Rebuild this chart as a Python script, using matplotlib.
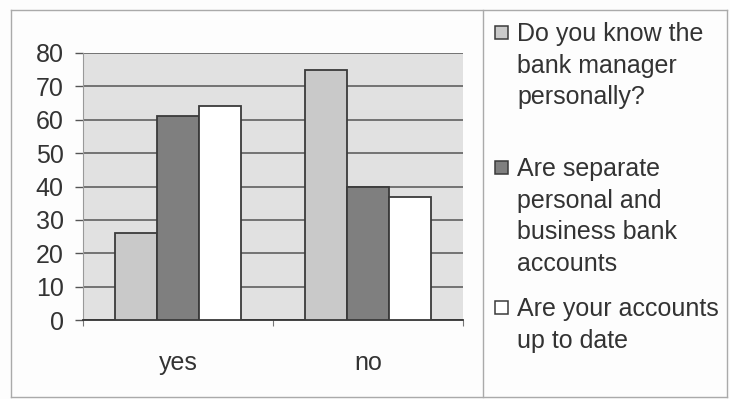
import numpy as np
import matplotlib.pyplot as plt
from matplotlib.patches import Rectangle
from matplotlib.lines import Line2D

plt.rcParams['font.family'] = ['Liberation Sans', 'DejaVu Sans']

categories = ['yes', 'no']
series_names = ['Do you know the\nbank manager\npersonally?',
                'Are separate\npersonal and\nbusiness bank\naccounts',
                'Are your accounts\nup to date']
know_manager = [26, 75]
separate_accounts = [61, 40]
up_to_date = [64, 37]
values = [know_manager, separate_accounts, up_to_date]
colors = ['#c9c9c9', '#7f7f7f', '#ffffff']

W, H = 730, 399
fig = plt.figure(figsize=(W / 100, H / 100), dpi=100)
fig.patch.set_facecolor('#fdfdfd')

# plot area in pixel terms
left, right, top, bottom = 83, 463, 53, 320
ax = fig.add_axes([left / W, 1 - bottom / H, (right - left) / W, (bottom - top) / H])
ax.set_facecolor('#e1e1e1')

x = np.arange(len(categories))
width = 1 / 4.5
for i, (vals, c) in enumerate(zip(values, colors)):
    ax.bar(x + (i - 1) * width, vals, width, color=c, edgecolor='#3a3a3a',
           linewidth=1.3, zorder=3)

ax.set_ylim(0, 80)
ax.set_xlim(-0.5, 1.5)
ax.set_yticks(range(0, 81, 10))
ax.yaxis.grid(True, color='#555555', linewidth=1.1, zorder=1)
ax.set_axisbelow(True)
ax.tick_params(axis='y', direction='out', length=6, width=1, color='#555555',
               labelsize=18, labelcolor='#333333', pad=8)

ax.set_xticks([-0.5, 0.5, 1.5])
ax.set_xticklabels([])
ax.set_xticks(x, minor=True)
ax.set_xticklabels(categories, minor=True)
ax.tick_params(axis='x', which='major', direction='out', length=4, color='#777777')
ax.tick_params(axis='x', which='minor', length=0, labelsize=18,
               labelcolor='#333333', pad=22)

for s in ['top', 'right']:
    ax.spines[s].set_visible(False)
ax.spines['left'].set_color('#999999')
ax.spines['bottom'].set_color('#333333')
ax.spines['bottom'].set_linewidth(1.3)

# chart frame and legend divider
def px(xp, yp):
    return xp / W, 1 - yp / H

for (x0, y0), (x1, y1) in [((11, 10), (727, 10)), ((11, 10), (11, 397)),
                           ((727, 10), (727, 397)), ((11, 397), (727, 397)),
                           ((483, 10), (483, 397))]:
    a, b = px(x0, y0)
    c, d = px(x1, y1)
    fig.add_artist(Line2D([a, c], [b, d], color='#aaaaaa', linewidth=1.0))

# legend
entry_tops = [32, 167, 307]
for name, c, yc in zip(series_names, colors, entry_tops):
    sx, sy = px(495, yc + 7)
    fig.add_artist(Rectangle((sx, sy), 13 / W, 13 / H, facecolor=c,
                             edgecolor='#3a3a3a', linewidth=1.1))
    tx, ty = px(517, yc - 10)
    fig.text(tx, ty, name, fontsize=18, color='#333333', va='top', ha='left',
             linespacing=1.40)

fig.savefig('out.png', dpi=100)
